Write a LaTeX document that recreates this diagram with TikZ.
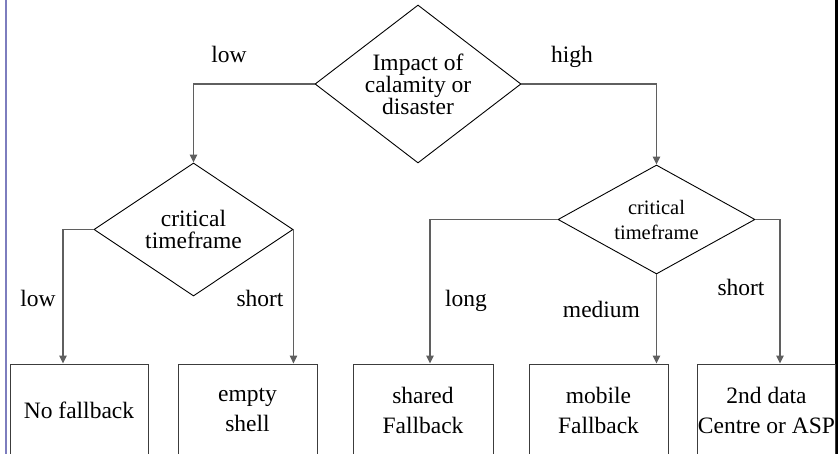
\documentclass[tikz,border=0pt]{standalone}
\usepackage{fontspec}
\setmainfont{Liberation Serif}
\usetikzlibrary{shapes.geometric,arrows.meta}
\definecolor{conncol}{RGB}{95,95,95}
\definecolor{boxcol}{RGB}{60,60,60}
\definecolor{framecol}{RGB}{125,125,190}
\begin{document}
\begin{tikzpicture}[x=1pt,y=-1pt,
  every node/.style={font=\fontsize{23.5}{22}\selectfont},
  dec/.style={diamond, draw=black, line width=0.9pt, inner sep=0pt, align=center},
  box/.style={rectangle, draw=boxcol, line width=1pt, inner sep=0pt, minimum height=92pt, align=center, font=\fontsize{23.5}{30}\selectfont},
  conn/.style={draw=conncol, line width=1.2pt, -{Triangle[length=8pt,width=7.5pt]}},
  lbl/.style={anchor=base, inner sep=0pt}]
\useasboundingbox (0,0) rectangle (838,454);
% frame lines
\draw[framecol, line width=2pt] (5.5,0) -- (5.5,454);
\draw[black, line width=2.5pt] (836.5,0) -- (836.5,454);
% decisions
\node[dec, minimum width=206pt, minimum height=158pt, aspect=1.3] (d1) at (418,84) {Impact of\\calamity or\\disaster};
\node[dec, minimum width=199pt, minimum height=133pt, aspect=1.5] (d2) at (193.5,229.5) {critical\\timeframe};
\node[dec, minimum width=197pt, minimum height=109pt, aspect=1.8, font=\fontsize{20.5}{25}\selectfont] (d3) at (656.5,219.5) {critical\\timeframe};
% outcomes
\node[box, minimum width=138pt] (b1) at (79,410) {No fallback};
\node[box, minimum width=139pt] (b2) at (247.5,410) {empty\\shell};
\node[box, minimum width=140pt] (b3) at (423,410) {shared\\Fallback};
\node[box, minimum width=139pt] (b4) at (598.5,410) {mobile\\Fallback};
\node[box, minimum width=137pt] (b5) at (766.5,410) {2nd data\\Centre or ASP};
% connectors
\draw[conn] (d1.west) -| (d2.north);
\draw[conn] (d1.east) -| (d3.north);
\draw[conn] (d2.west) -| ([xshift=-16pt]b1.north);
\draw[conn] (d2.east) -- (d2.east |- b2.north);
\draw[conn] (d3.west) -| ([xshift=7pt]b3.north);
\draw[conn] (d3.south) -- (d3.south |- b4.north);
\draw[conn] (d3.east) -| ([xshift=13.5pt]b5.north);
% labels
\node[lbl] (l1) at (229,63) {low};
\node[lbl] (h1) at (572,63) {high};
\node[lbl] (l2) at (38,307) {low};
\node[lbl] (s1) at (260,307) {short};
\node[lbl] (lg) at (466,307) {long};
\node[lbl] (md) at (601.5,318) {medium};
\node[lbl] (s2) at (741,296) {short};
\end{tikzpicture}
\end{document}
